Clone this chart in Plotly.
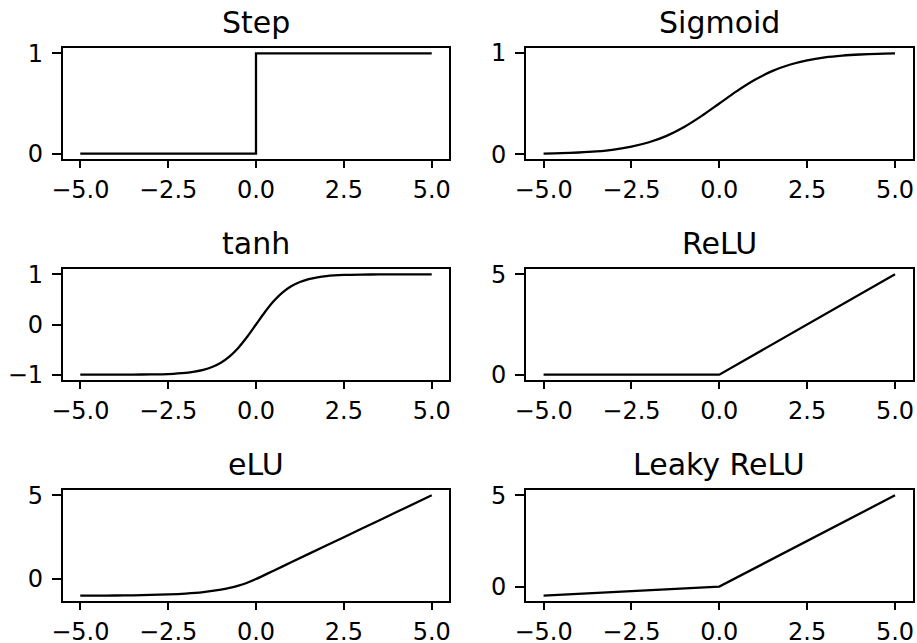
import plotly.graph_objects as go

# ---- data ----
step_x = [-5.0, 0.0, 0.0, 5.0]
step_y = [0.0, 0.0, 1.0, 1.0]

sig_x = [-5.0, -4.5, -4.0, -3.5, -3.0, -2.5, -2.0, -1.5, -1.0, -0.5, 0.0,
         0.5, 1.0, 1.5, 2.0, 2.5, 3.0, 3.5, 4.0, 4.5, 5.0]
sig_y = [0.007, 0.011, 0.018, 0.029, 0.047, 0.076, 0.119, 0.182, 0.269, 0.378, 0.5,
         0.622, 0.731, 0.818, 0.881, 0.924, 0.953, 0.971, 0.982, 0.989, 0.993]

tanh_x = [-5.0, -4.5, -4.0, -3.5, -3.0, -2.5, -2.0, -1.75, -1.5, -1.25, -1.0, -0.75,
          -0.5, -0.25, 0.0, 0.25, 0.5, 0.75, 1.0, 1.25, 1.5, 1.75, 2.0, 2.5, 3.0,
          3.5, 4.0, 4.5, 5.0]
tanh_y = [-1.0, -1.0, -0.999, -0.998, -0.995, -0.987, -0.964, -0.941, -0.905, -0.848,
          -0.762, -0.635, -0.462, -0.245, 0.0, 0.245, 0.462, 0.635, 0.762, 0.848,
          0.905, 0.941, 0.964, 0.987, 0.995, 0.998, 0.999, 1.0, 1.0]

relu_x = [-5.0, 0.0, 5.0]
relu_y = [0.0, 0.0, 5.0]

elu_x = [-5.0, -4.5, -4.0, -3.5, -3.0, -2.5, -2.0, -1.5, -1.0, -0.75, -0.5, -0.25,
         0.0, 0.5, 1.0, 2.0, 3.0, 4.0, 5.0]
elu_y = [-0.993, -0.989, -0.982, -0.970, -0.950, -0.918, -0.865, -0.777, -0.632,
         -0.528, -0.393, -0.221, 0.0, 0.5, 1.0, 2.0, 3.0, 4.0, 5.0]

leaky_x = [-5.0, 0.0, 5.0]
leaky_y = [-0.5, 0.0, 5.0]

titles = ["Step", "Sigmoid", "tanh", "ReLU", "eLU", "Leaky ReLU"]
x_ticks = [-5.0, -2.5, 0.0, 2.5, 5.0]
x_tick_text = ["\u22125.0", "\u22122.5", "0.0", "2.5", "5.0"]
y_ticks = [[0, 1], [0, 1], [-1, 0, 1], [0, 5], [0, 5], [0, 5]]
y_ranges = [[-0.05, 1.05], [-0.043, 1.043], [-1.1, 1.1], [-0.25, 5.25],
            [-1.293, 5.3], [-0.775, 5.275]]

series = [(step_x, step_y, "linear"), (sig_x, sig_y, "spline"),
          (tanh_x, tanh_y, "spline"), (relu_x, relu_y, "linear"),
          (elu_x, elu_y, "spline"), (leaky_x, leaky_y, "linear")]

W, H = 917, 643
col_dom = [[62.7 / W, 449.3 / W], [526.0 / W, 912.6 / W]]
row_px = [[48.3, 158.7], [269.3, 379.7], [490.3, 600.7]]
row_dom = [[1 - b / H, 1 - t / H] for t, b in row_px]

FONT = "DejaVu Sans"
fig = go.Figure()
annotations = []
for i, (xs, ys, shape) in enumerate(series):
    r, c = divmod(i, 2)
    n = i + 1
    xa = "x" if n == 1 else f"x{n}"
    ya = "y" if n == 1 else f"y{n}"
    fig.add_trace(go.Scatter(x=xs, y=ys, mode="lines", xaxis=xa, yaxis=ya,
                             line=dict(color="black", width=2.3, shape=shape, smoothing=0.8),
                             showlegend=False, hoverinfo="skip"))
    common = dict(showline=True, mirror=True, linecolor="black", linewidth=1.6,
                  showgrid=False, zeroline=False, ticks="outside", automargin=False,
                  tickcolor="black", tickwidth=1.6, fixedrange=True,
                  tickfont=dict(family=FONT, size=24, color="black"))
    fig.layout[f"xaxis{'' if n == 1 else n}"] = dict(
        domain=col_dom[c], range=[-5.5, 5.5], anchor=ya,
        tickvals=x_ticks, ticktext=x_tick_text, ticklen=7,
        ticklabelstandoff=2, **common)
    fig.layout[f"yaxis{'' if n == 1 else n}"] = dict(
        domain=row_dom[r], range=y_ranges[i], anchor=xa,
        tickvals=y_ticks[i],
        ticktext=[("\u2212" + str(-v)) if v < 0 else str(v) for v in y_ticks[i]],
        ticklen=9, ticklabelstandoff=4, **common)
    annotations.append(dict(
        text=titles[i], xref="paper", yref="paper",
        x=(col_dom[c][0] + col_dom[c][1]) / 2, y=row_dom[r][1],
        xanchor="center", yanchor="bottom", yshift=6, showarrow=False,
        font=dict(family=FONT, size=30, color="black")))

fig.update_layout(template="none", width=W, height=H,
                  margin=dict(l=0, r=0, t=0, b=0, autoexpand=False),
                  paper_bgcolor="white", plot_bgcolor="white",
                  annotations=annotations)
fig.write_html("out.html", config={"displayModeBar": False},
               post_script="document.body.style.margin='0';"
                           "document.body.style.overflow='hidden';")
